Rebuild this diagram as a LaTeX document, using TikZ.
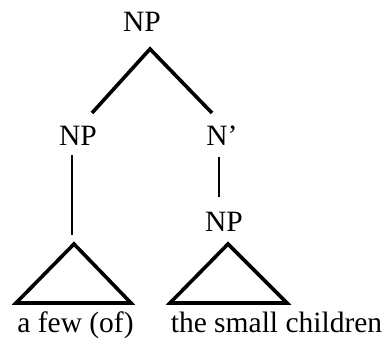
\documentclass[tikz,border=0pt]{standalone}
\usepackage{fontspec}
\setmainfont{Liberation Serif}
\begin{document}
\begin{tikzpicture}[x=1pt,y=-1pt,
  lbl/.style={inner sep=0pt,font=\fontsize{29.5}{34}\selectfont},
  edge/.style={line width=3.6pt},
  vedge/.style={line width=2.4pt},
  tri/.style={line width=3.6pt,line join=miter}]
\useasboundingbox (0,0) rectangle (391,345);
\node[lbl] (np0) at (142,22) {NP};
\node[lbl] (np1) at (78,136) {NP};
\node[lbl] (nb) at (222,136) {N'};
\node[lbl] (np2) at (224,222) {NP};
\coordinate (apex) at (150,49);
\coordinate (e1) at (92,113);
\coordinate (e2) at (212,113);
\draw[edge] (e1) -- (apex) -- (e2);
\coordinate (v1a) at (72,155);
\coordinate (v1b) at (72,235);
\draw[vedge] (v1a) -- (v1b);
\coordinate (v2a) at (219,157);
\coordinate (v2b) at (219,197);
\draw[vedge] (v2a) -- (v2b);
\coordinate (t1) at (74,244);
\coordinate (t1l) at (16,303);
\coordinate (t1r) at (131,303);
\draw[tri] (t1) -- (t1r) -- (t1l) -- cycle;
\coordinate (t2) at (228,244);
\coordinate (t2l) at (170,303);
\coordinate (t2r) at (287,303);
\draw[tri] (t2) -- (t2r) -- (t2l) -- cycle;
\node[lbl,anchor=base] (w1) at (75.5,332) {a few (of)};
\node[lbl,anchor=base] (w2) at (276.5,332) {the small children};
\end{tikzpicture}
\end{document}
